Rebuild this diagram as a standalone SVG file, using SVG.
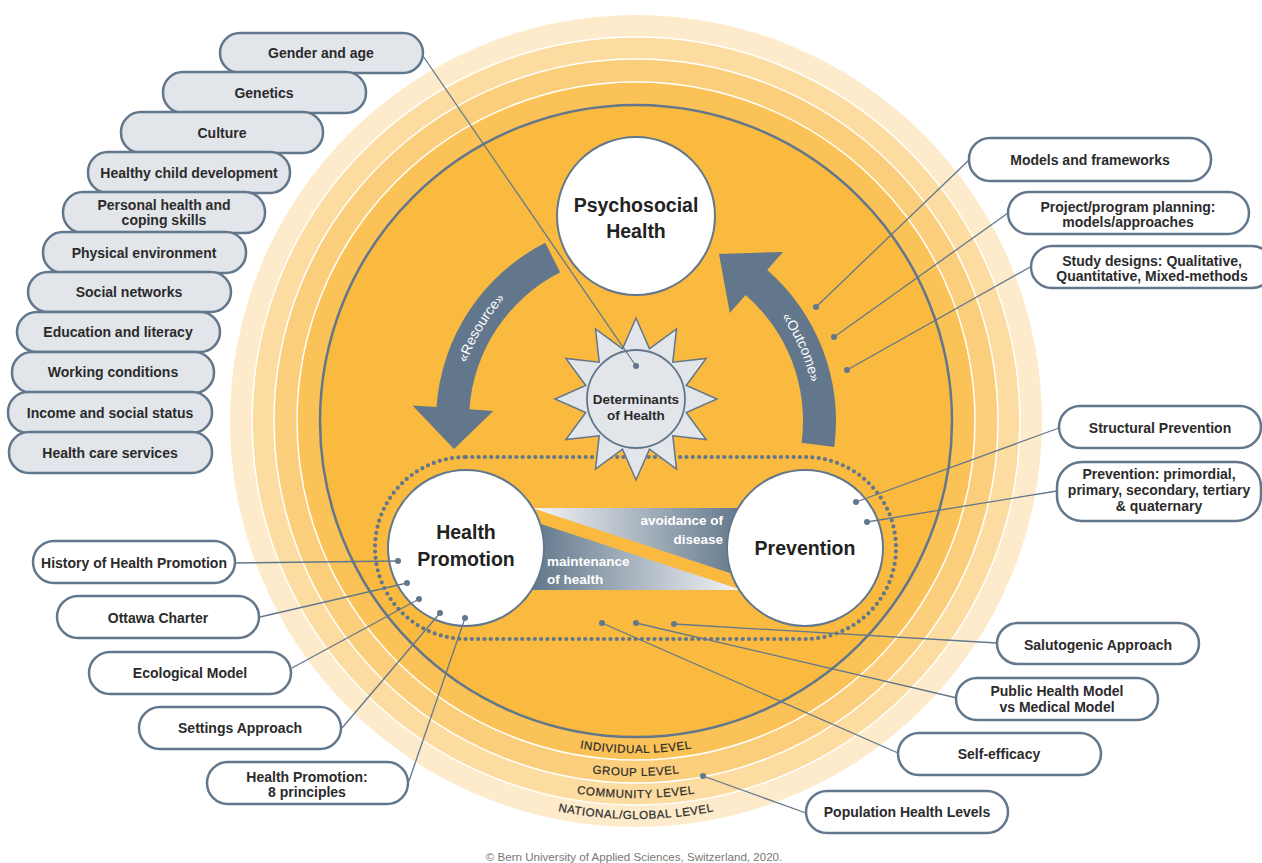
<svg xmlns="http://www.w3.org/2000/svg" width="1262" height="863" viewBox="0 0 1262 863">
<defs>
<style>
.pill{fill:#E2E5EA;stroke:#62778B;stroke-width:2.5}
.box{fill:#FFFFFF;stroke:#62778B;stroke-width:2.5}
.lbl{font-family:"Liberation Sans",Arial,sans-serif;font-size:14px;font-weight:bold;fill:#2B2B2B;text-anchor:middle}
.big{font-family:"Liberation Sans",Arial,sans-serif;font-size:19.5px;font-weight:bold;fill:#222222;text-anchor:middle}
.det{font-family:"Liberation Sans",Arial,sans-serif;font-size:13.5px;font-weight:bold;fill:#2B2B2B;text-anchor:middle}
.lvl{font-family:"Liberation Sans",Arial,sans-serif;font-size:11.5px;fill:#2E2E2E;letter-spacing:0.6px;text-anchor:middle;stroke:#2E2E2E;stroke-width:0.25}
.arrtxt{font-family:"Liberation Sans",Arial,sans-serif;font-size:14px;fill:#FFFFFF;text-anchor:middle}
.band{font-family:"Liberation Sans",Arial,sans-serif;font-size:13.5px;font-weight:bold;fill:#FFFFFF}
.conn{stroke:#62778B;stroke-width:1.3;fill:none}
.dot{fill:#62778B}
.circ{fill:#FFFFFF;stroke:#62778B;stroke-width:2}
.ring{stroke:#FFFFFF;stroke-width:1.5}
.copy{font-family:"Liberation Sans",Arial,sans-serif;font-size:11.6px;fill:#777777;text-anchor:middle}
</style>
<linearGradient id="gUp" x1="0" y1="0" x2="1" y2="0">
<stop offset="0" stop-color="#F5F6F8"/>
<stop offset="1" stop-color="#62778B"/>
</linearGradient>
<linearGradient id="gDown" x1="0" y1="0" x2="1" y2="0">
<stop offset="0" stop-color="#62778B"/>
<stop offset="1" stop-color="#F5F6F8"/>
</linearGradient>
<path id="pRes" d="M 457.0 417.9 A 179 179 0 0 1 549.2 264.4"/>
<path id="pOut" d="M 741.2 276.2 A 179 179 0 0 1 814.0 439.7"/>
<path id="pL1" d="M 401.2 655.8 A 332 332 0 0 0 870.8 655.8"/>
<path id="pL2" d="M 385.0 672.0 A 355 355 0 0 0 887.0 672.0"/>
<path id="pL3" d="M 369.4 687.6 A 377 377 0 0 0 902.6 687.6"/>
<path id="pL4" d="M 354.6 702.4 A 398 398 0 0 0 917.4 702.4"/>
</defs>

<g id="background-rings">
<circle cx="636" cy="421" r="406" fill="#FDEBCB"/>
<circle cx="636" cy="421" r="384" fill="#FCDCA0" class="ring"/>
<circle cx="636" cy="421" r="362" fill="#FBCE7C" class="ring"/>
<circle cx="636" cy="421" r="339" fill="#FAC257" class="ring"/>
<circle cx="636" cy="421" r="316" fill="#F9BA3F" stroke="#62778B" stroke-width="2.5"/>
</g>

<g id="levels">
<text class="lvl"><textPath href="#pL1" startOffset="50%">INDIVIDUAL LEVEL</textPath></text>
<text class="lvl"><textPath href="#pL2" startOffset="50%">GROUP LEVEL</textPath></text>
<text class="lvl"><textPath href="#pL3" startOffset="50%">COMMUNITY LEVEL</textPath></text>
<text class="lvl"><textPath href="#pL4" startOffset="50%">NATIONAL/GLOBAL LEVEL</textPath></text>
</g>

<g id="arrow-resource">
<path d="M 545.2 242.8 A 200 200 0 0 0 436.5 407.0 L 412.5 405.4 L 454 449 L 493.3 411.0 L 469.4 409.3 A 167 167 0 0 1 560.2 272.2 Z" fill="#62778B"/>
<text class="arrtxt"><textPath href="#pRes" startOffset="50%">«Resource»</textPath></text>
</g>
<g id="arrow-outcome">
<path d="M 834.3 447.1 A 200 200 0 0 0 767.2 270.1 L 783.0 251.9 L 719 254 L 729.8 313.1 L 745.6 295.0 A 167 167 0 0 1 801.6 442.8 Z" fill="#62778B"/>
<text class="arrtxt"><textPath href="#pOut" startOffset="50%">«Outcome»</textPath></text>
</g>

<g id="stadium">
<path d="M 466 457 H 805 A 91 91 0 0 1 805 639 H 466 A 91 91 0 0 1 466 457 Z" fill="none" stroke="#62778B" stroke-width="4.2" stroke-linecap="round" stroke-dasharray="0 6.3"/>
</g>

<g id="band">
<polygon points="532,508 742,508 742,577" fill="url(#gUp)"/>
<polygon points="532,521 742,590 532,590" fill="url(#gDown)"/>
<text class="band" x="723" y="525" text-anchor="end">avoidance of</text>
<text class="band" x="723" y="544" text-anchor="end">disease</text>
<text class="band" x="547" y="566">maintenance</text>
<text class="band" x="547" y="584">of health</text>
</g>

<g id="node-psychosocial">
<circle class="circ" cx="636" cy="216" r="79"/>
<text class="big" x="636" y="212">Psychosocial</text>
<text class="big" x="636" y="238">Health</text>
</g>
<g id="node-health-promotion">
<circle class="circ" cx="466" cy="548" r="78"/>
<text class="big" x="466" y="539">Health</text>
<text class="big" x="466" y="566">Promotion</text>
</g>
<g id="node-prevention">
<circle class="circ" cx="805" cy="548" r="78"/>
<text class="big" x="805" y="555">Prevention</text>
</g>
<g id="node-determinants">
<polygon points="636,318 649.5,348.8 676.5,328.8 672.8,362.2 706.1,358.5 686.2,385.5 717,399 686.2,412.5 706.1,439.5 672.8,435.8 676.5,469.2 649.5,449.2 636,480 622.5,449.2 595.5,469.2 599.2,435.8 565.9,439.5 585.8,412.5 555,399 585.8,385.5 565.9,358.5 599.2,362.2 595.5,328.8 622.5,348.8" fill="#E2E5EA" stroke="#62778B" stroke-width="1.5" stroke-linejoin="miter"/>
<circle cx="636" cy="399" r="49" fill="#E2E5EA" stroke="#62778B" stroke-width="1.8"/>
<text class="det" x="636" y="404">Determinants</text>
<text class="det" x="636" y="420">of Health</text>
</g>

<g id="connectors">
<line class="conn" x1="423" y1="56" x2="636" y2="366"/><circle class="dot" cx="636" cy="366" r="3"/>
<line class="conn" x1="969" y1="160" x2="816" y2="307"/><circle class="dot" cx="816" cy="307" r="3"/>
<line class="conn" x1="1008" y1="213" x2="834" y2="337"/><circle class="dot" cx="834" cy="337" r="3"/>
<line class="conn" x1="1032" y1="266" x2="847" y2="370"/><circle class="dot" cx="847" cy="370" r="3"/>
<line class="conn" x1="1059" y1="428" x2="856" y2="502"/><circle class="dot" cx="856" cy="502" r="3"/>
<line class="conn" x1="1057" y1="491" x2="867" y2="522"/><circle class="dot" cx="867" cy="522" r="3"/>
<line class="conn" x1="235" y1="563" x2="398" y2="561"/><circle class="dot" cx="398" cy="561" r="3"/>
<line class="conn" x1="260" y1="617" x2="407" y2="583"/><circle class="dot" cx="407" cy="583" r="3"/>
<line class="conn" x1="292" y1="668" x2="419" y2="599"/><circle class="dot" cx="419" cy="599" r="3"/>
<line class="conn" x1="342" y1="728" x2="440" y2="613"/><circle class="dot" cx="440" cy="613" r="3"/>
<line class="conn" x1="409" y1="781" x2="465" y2="618"/><circle class="dot" cx="465" cy="618" r="3"/>
<line class="conn" x1="997" y1="643" x2="674" y2="624"/><circle class="dot" cx="674" cy="624" r="3"/>
<line class="conn" x1="957" y1="698" x2="636" y2="623"/><circle class="dot" cx="636" cy="623" r="3"/>
<line class="conn" x1="898" y1="753" x2="602" y2="623"/><circle class="dot" cx="602" cy="623" r="3"/>
<line class="conn" x1="806" y1="813" x2="703" y2="776"/><circle class="dot" cx="703" cy="776" r="3"/>
</g>

<g id="node-gender"><rect class="pill" x="220" y="33" width="203" height="40" rx="20"/><text class="lbl" x="321" y="58">Gender and age</text></g>
<g id="node-genetics"><rect class="pill" x="163" y="72" width="203" height="41" rx="20"/><text class="lbl" x="264" y="98">Genetics</text></g>
<g id="node-culture"><rect class="pill" x="121" y="112" width="202" height="41" rx="20"/><text class="lbl" x="222" y="138">Culture</text></g>
<g id="node-child"><rect class="pill" x="88" y="152" width="202" height="41" rx="20"/><text class="lbl" x="189" y="178">Healthy child development</text></g>
<g id="node-personal"><rect class="pill" x="63" y="192" width="202" height="41" rx="20"/><text class="lbl" x="164" y="210">Personal health and</text><text class="lbl" x="164" y="225">coping skills</text></g>
<g id="node-physical"><rect class="pill" x="43" y="232" width="203" height="41" rx="20"/><text class="lbl" x="144" y="258">Physical environment</text></g>
<g id="node-social"><rect class="pill" x="28" y="272" width="203" height="40" rx="20"/><text class="lbl" x="129" y="297">Social networks</text></g>
<g id="node-education"><rect class="pill" x="17" y="312" width="203" height="40" rx="20"/><text class="lbl" x="118" y="337">Education and literacy</text></g>
<g id="node-working"><rect class="pill" x="12" y="352" width="202" height="41" rx="20"/><text class="lbl" x="113" y="377">Working conditions</text></g>
<g id="node-income"><rect class="pill" x="8" y="392" width="204" height="41" rx="20"/><text class="lbl" x="110" y="418">Income and social status</text></g>
<g id="node-healthcare"><rect class="pill" x="9" y="432" width="203" height="41" rx="20"/><text class="lbl" x="110" y="458">Health care services</text></g>

<g id="node-models"><rect class="box" x="969" y="138" width="242" height="43" rx="21"/><text class="lbl" x="1090" y="165">Models and frameworks</text></g>
<g id="node-project"><rect class="box" x="1008" y="192" width="241" height="42" rx="21"/><text class="lbl" x="1128" y="212">Project/program planning:</text><text class="lbl" x="1128" y="227">models/approaches</text></g>
<g id="node-study"><rect class="box" x="1031" y="246" width="242" height="42" rx="21"/><text class="lbl" x="1152" y="266">Study designs: Qualitative,</text><text class="lbl" x="1152" y="281">Quantitative, Mixed-methods</text></g>
<g id="node-structural"><rect class="box" x="1059" y="406" width="202" height="42" rx="21"/><text class="lbl" x="1160" y="433">Structural Prevention</text></g>
<g id="node-prevention-levels"><rect class="box" x="1057" y="462" width="204" height="59" rx="25"/><text class="lbl" x="1159" y="479">Prevention: primordial,</text><text class="lbl" x="1159" y="495">primary, secondary, tertiary</text><text class="lbl" x="1159" y="511">&amp; quaternary</text></g>

<g id="node-history"><rect class="box" x="33" y="541" width="202" height="42" rx="21"/><text class="lbl" x="134" y="568">History of Health Promotion</text></g>
<g id="node-ottawa"><rect class="box" x="57" y="596" width="202" height="42" rx="21"/><text class="lbl" x="158" y="623">Ottawa Charter</text></g>
<g id="node-ecological"><rect class="box" x="89" y="652" width="202" height="42" rx="21"/><text class="lbl" x="190" y="678">Ecological Model</text></g>
<g id="node-settings"><rect class="box" x="139" y="707" width="202" height="42" rx="21"/><text class="lbl" x="240" y="733">Settings Approach</text></g>
<g id="node-principles"><rect class="box" x="207" y="762" width="201" height="42" rx="21"/><text class="lbl" x="307" y="782">Health Promotion:</text><text class="lbl" x="307" y="797">8 principles</text></g>

<g id="node-salutogenic"><rect class="box" x="997" y="623" width="202" height="41" rx="21"/><text class="lbl" x="1098" y="650">Salutogenic Approach</text></g>
<g id="node-public"><rect class="box" x="956" y="678" width="202" height="42" rx="21"/><text class="lbl" x="1057" y="696">Public Health Model</text><text class="lbl" x="1057" y="712">vs Medical Model</text></g>
<g id="node-selfefficacy"><rect class="box" x="898" y="733" width="203" height="42" rx="21"/><text class="lbl" x="999" y="759">Self-efficacy</text></g>
<g id="node-population"><rect class="box" x="806" y="791" width="202" height="42" rx="21"/><text class="lbl" x="907" y="817">Population Health Levels</text></g>

<text class="copy" x="634" y="861">© Bern University of Applied Sciences, Switzerland, 2020.</text>
</svg>
